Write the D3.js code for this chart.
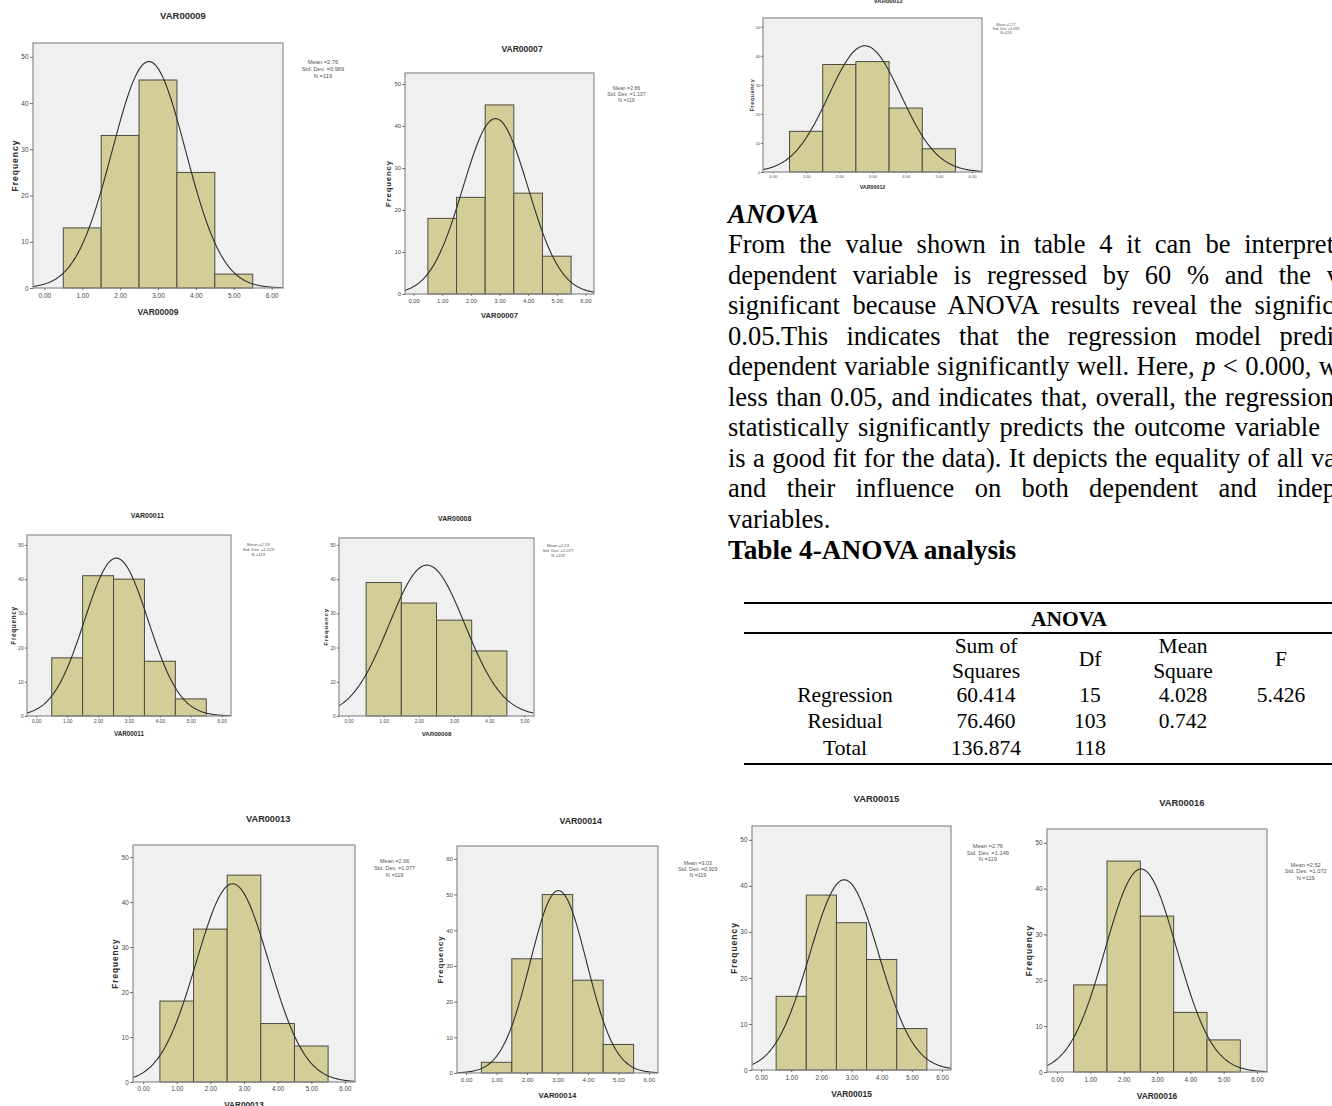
<!DOCTYPE html>
<html>
<head>
<meta charset="utf-8">
<script src="https://cdn.jsdelivr.net/npm/d3@7"></script>
<style>
html, body { margin: 0; padding: 0; background: #fff; overflow: hidden; }
svg { display: block; }
</style>
</head>
<body>
<svg id="page" width="1332" height="1106"></svg>
<script>
// ---- histogram data (counts per bin, bins centred on 1.00, 2.00, ...) ----
var variables = ["VAR00009", "VAR00007", "VAR00012", "VAR00011", "VAR00008",
                 "VAR00013", "VAR00014", "VAR00015", "VAR00016"];
var freqVAR00009 = [13, 33, 45, 25, 3];
var freqVAR00007 = [18, 23, 45, 24, 9];
var freqVAR00012 = [14, 37, 38, 22, 8];
var freqVAR00011 = [17, 41, 40, 16, 5];
var freqVAR00008 = [39, 33, 28, 19];
var freqVAR00013 = [18, 34, 46, 13, 8];
var freqVAR00014 = [3, 32, 50, 26, 8];
var freqVAR00015 = [16, 38, 32, 24, 9];
var freqVAR00016 = [19, 46, 34, 13, 7];
var means   = [2.76, 2.86, 2.77, 2.59, 2.23, 2.66, 3.03, 2.76, 2.52];
var stdDevs = [0.969, 1.137, 1.093, 1.029, 1.077, 1.077, 0.929, 1.149, 1.072];
var nValues = [119, 119, 119, 119, 119, 119, 119, 119, 119];
var frequencies = [freqVAR00009, freqVAR00007, freqVAR00012, freqVAR00011, freqVAR00008,
                   freqVAR00013, freqVAR00014, freqVAR00015, freqVAR00016];

// ---- ANOVA table ----
var anovaSources = ["Regression", "Residual", "Total"];
var sumOfSquares = ["60.414", "76.460", "136.874"];
var dfValues = ["15", "103", "118"];
var meanSquares = ["4.028", "0.742", ""];
var fValues = ["5.426", "", ""];

// ---- text ----
var sectionHeading = "ANOVA";
var paragraphLines = [
    "From the value shown in table 4 it can be interpret",
    "dependent variable is regressed by 60 % and the v",
    "significant because ANOVA results reveal the signific",
    "0.05.This indicates that the regression model predi",
    "dependent variable significantly well. Here, p < 0.000, w",
    "less than 0.05, and indicates that, overall, the regression",
    "statistically significantly predicts the outcome variable",
    "is a good fit for the data). It depicts the equality of all va",
    "and their influence on both dependent and indep",
    "variables."
];
var tableCaption = "Table 4-ANOVA analysis";

// ---- layout (pixel boxes of each plot area) ----
var panelLayout = [
    { x0: 33,   y0: 43,  x1: 283,  y1: 288,  xMax: 6, yMax: 53,   sdx: 40, sdy: 19 },
    { x0: 405,  y0: 73,  x1: 594,  y1: 294,  xMax: 6, yMax: 52.6, sdx: 36, sdy: 17 },
    { x0: 763,  y0: 18,  x1: 982,  y1: 172,  xMax: 6, yMax: 53,   sdx: 38, sdy: 10 },
    { x0: 27,   y0: 535, x1: 231,  y1: 716,  xMax: 6, yMax: 52.9, sdx: 37, sdy: 13 },
    { x0: 339,  y0: 538, x1: 534,  y1: 716,  xMax: 5, yMax: 52,   sdx: 33, sdy: 10 },
    { x0: 133,  y0: 845, x1: 355,  y1: 1082, xMax: 6, yMax: 52.7, sdx: 41, sdy: 17 },
    { x0: 457,  y0: 846, x1: 658,  y1: 1073, xMax: 6, yMax: 63.6, sdx: 43, sdy: 18 },
    { x0: 752,  y0: 826, x1: 951,  y1: 1070, xMax: 6, yMax: 53,   sdx: 37, sdy: 20 },
    { x0: 1047, y0: 829, x1: 1267, y1: 1072, xMax: 6, yMax: 53,   sdx: 39, sdy: 36 }
];

var svg = d3.select("#page");
var chartFont = "'Liberation Sans', Arial, sans-serif";
var textFont = "'Liberation Serif', 'Times New Roman', serif";

function drawPanel(idx) {
    var name = variables[idx], freq = frequencies[idx];
    var mean = means[idx], sd = stdDevs[idx], n = nValues[idx];
    var lay = panelLayout[idx];
    var w = lay.x1 - lay.x0, h = lay.y1 - lay.y0;
    var k = h / 245;
    var pad = lay.xMax === 5 ? 0.27 : 0.3;
    var x = d3.scaleLinear().domain([-pad, lay.xMax + pad]).range([lay.x0, lay.x1]);
    var y = d3.scaleLinear().domain([0, lay.yMax]).range([lay.y1, lay.y0]);
    var g = svg.append("g").attr("class", "panel");

    g.append("rect")
        .attr("x", lay.x0).attr("y", lay.y0).attr("width", w).attr("height", h)
        .attr("fill", "#f0f0f0");

    g.selectAll("rect.bar").data(freq).enter().append("rect")
        .attr("class", "bar")
        .attr("x", function (d, i) { return x(i + 0.5); })
        .attr("width", function (d, i) { return x(i + 1.5) - x(i + 0.5); })
        .attr("y", function (d) { return y(d); })
        .attr("height", function (d) { return y(0) - y(d); })
        .attr("fill", "#d3cd98")
        .attr("stroke", "#4d4a3e")
        .attr("stroke-width", 1);

    // normal curve from the panel's mean / sd / N
    var clipId = "clip" + idx;
    g.append("clipPath").attr("id", clipId).append("rect")
        .attr("x", lay.x0).attr("y", lay.y0).attr("width", w).attr("height", h);
    var pts = d3.range(-pad, lay.xMax + pad + 0.001, 0.03);
    var curve = d3.line()
        .x(function (d) { return x(d); })
        .y(function (d) {
            var z = (d - mean) / sd;
            return y(n / (sd * Math.sqrt(2 * Math.PI)) * Math.exp(-0.5 * z * z));
        });
    g.append("path").datum(pts)
        .attr("d", curve)
        .attr("fill", "none")
        .attr("stroke", "#2e2e2e")
        .attr("stroke-width", 1.1)
        .attr("clip-path", "url(#" + clipId + ")");

    g.append("rect")
        .attr("x", lay.x0).attr("y", lay.y0).attr("width", w).attr("height", h)
        .attr("fill", "none").attr("stroke", "#8c8c8c").attr("stroke-width", 1.2);

    var yAxis = d3.axisLeft(y)
        .tickValues(d3.range(0, lay.yMax, 10))
        .tickSize(3 * k).tickPadding(1.5 * k)
        .tickFormat(d3.format("d"));
    var ya = g.append("g").attr("transform", "translate(" + lay.x0 + ",0)").call(yAxis);
    var xAxis = d3.axisBottom(x)
        .tickValues(d3.range(0, lay.xMax + 0.01, 1))
        .tickSize(2 * k).tickPadding(3 * k)
        .tickFormat(d3.format(".2f"));
    var xa = g.append("g").attr("transform", "translate(0," + lay.y1 + ")").call(xAxis);
    [ya, xa].forEach(function (a) {
        a.select(".domain").remove();
        a.selectAll("line").attr("stroke", "#666");
        a.selectAll("text")
            .attr("font-family", chartFont)
            .attr("font-size", 6.5 * k)
            .attr("fill", "#444");
    });

    g.append("text")
        .attr("x", (lay.x0 + lay.x1) / 2 + 25 * k)
        .attr("y", lay.y0 - 27 * k)
        .attr("dy", "0.35em")
        .attr("text-anchor", "middle")
        .attr("font-family", chartFont).attr("font-weight", "bold")
        .attr("font-size", 9.5 * k).attr("fill", "#2a2a2a")
        .text(name);

    g.append("text")
        .attr("x", (lay.x0 + lay.x1) / 2)
        .attr("y", lay.y1 + 24 * k)
        .attr("dy", "0.35em")
        .attr("text-anchor", "middle")
        .attr("font-family", chartFont).attr("font-weight", "bold")
        .attr("font-size", 8.5 * k).attr("fill", "#2a2a2a")
        .text(name);

    g.append("text")
        .attr("transform", "translate(" + (lay.x0 - 18 * k) + "," + ((lay.y0 + lay.y1) / 2) + ") rotate(-90)")
        .attr("dy", "0.35em")
        .attr("text-anchor", "middle")
        .attr("font-family", chartFont).attr("font-weight", "bold")
        .attr("font-size", 8.5 * k).attr("letter-spacing", 1 * k).attr("fill", "#2a2a2a")
        .text("Frequency");

    var stats = ["Mean =" + d3.format(".2f")(mean),
                 "Std. Dev. =" + d3.format(".3f")(sd),
                 "N =" + n];
    g.selectAll("text.stats").data(stats).enter().append("text")
        .attr("class", "stats")
        .attr("x", lay.x1 + lay.sdx * k)
        .attr("y", function (d, i) { return lay.y0 + lay.sdy * k + i * 6.8 * k; })
        .attr("dy", "0.35em")
        .attr("text-anchor", "middle")
        .attr("font-family", chartFont)
        .attr("font-size", 5.75 * k).attr("fill", "#555")
        .text(function (d) { return d; });
}

variables.forEach(function (v, i) { drawPanel(i); });

// ---- ANOVA text block ----
var textLeft = 728;
svg.append("text")
    .attr("x", textLeft).attr("y", 223)
    .attr("font-family", textFont).attr("font-size", 27)
    .attr("font-weight", "bold").attr("font-style", "italic")
    .text(sectionHeading);

var lineEnds = [1334, 1340, 1334, 1334, 1338, 1334, 1320, 1336, 1336, null];
paragraphLines.forEach(function (line, i) {
    var t = svg.append("text")
        .attr("x", textLeft).attr("y", 253 + i * 30.5)
        .attr("font-family", textFont).attr("font-size", 26.5)
        .attr("fill", "#000")
        .style("white-space", "pre");
    var pIdx = line.indexOf(" p < ");
    if (pIdx >= 0) {
        t.append("tspan").text(line.slice(0, pIdx + 1));
        t.append("tspan").attr("font-style", "italic").text("p");
        t.append("tspan").text(line.slice(pIdx + 2));
    } else {
        t.text(line);
    }
    if (lineEnds[i] !== null) {
        var natural = t.node().getComputedTextLength();
        var spaces = line.split(" ").length - 1;
        var ws = (lineEnds[i] - textLeft - natural) / spaces;
        t.style("word-spacing", ws + "px");
    }
});

svg.append("text")
    .attr("x", textLeft).attr("y", 559)
    .attr("font-family", textFont).attr("font-size", 27.3)
    .attr("font-weight", "bold")
    .text(tableCaption);

// ---- ANOVA table ----
var tableLeft = 744, tableRight = 1332;
[603, 633, 764].forEach(function (yy) {
    svg.append("line")
        .attr("x1", tableLeft).attr("x2", tableRight)
        .attr("y1", yy).attr("y2", yy)
        .attr("stroke", "#000").attr("stroke-width", 2.2);
});
svg.append("text")
    .attr("x", 1069).attr("y", 626)
    .attr("text-anchor", "middle")
    .attr("font-family", textFont).attr("font-size", 21.5).attr("font-weight", "bold")
    .text("ANOVA");

var colX = [845, 986, 1090, 1183, 1281];
var headerCells = [
    { col: 1, lines: ["Sum of", "Squares"] },
    { col: 2, lines: ["Df"] },
    { col: 3, lines: ["Mean", "Square"] },
    { col: 4, lines: ["F"] }
];
headerCells.forEach(function (hc) {
    hc.lines.forEach(function (s, j) {
        svg.append("text")
            .attr("x", colX[hc.col])
            .attr("y", hc.lines.length === 1 ? 666 : 653 + j * 25)
            .attr("text-anchor", "middle")
            .attr("font-family", textFont).attr("font-size", 21.5)
            .text(s);
    });
});

var rowY = [702, 728, 755];
var tableCols = [anovaSources, sumOfSquares, dfValues, meanSquares, fValues];
tableCols.forEach(function (col, c) {
    svg.selectAll("text.col" + c).data(col).enter().append("text")
        .attr("class", "col" + c)
        .attr("x", colX[c])
        .attr("y", function (d, r) { return rowY[r]; })
        .attr("text-anchor", "middle")
        .attr("font-family", textFont).attr("font-size", 21.5)
        .text(function (d) { return d; });
});
</script>
</body>
</html>
